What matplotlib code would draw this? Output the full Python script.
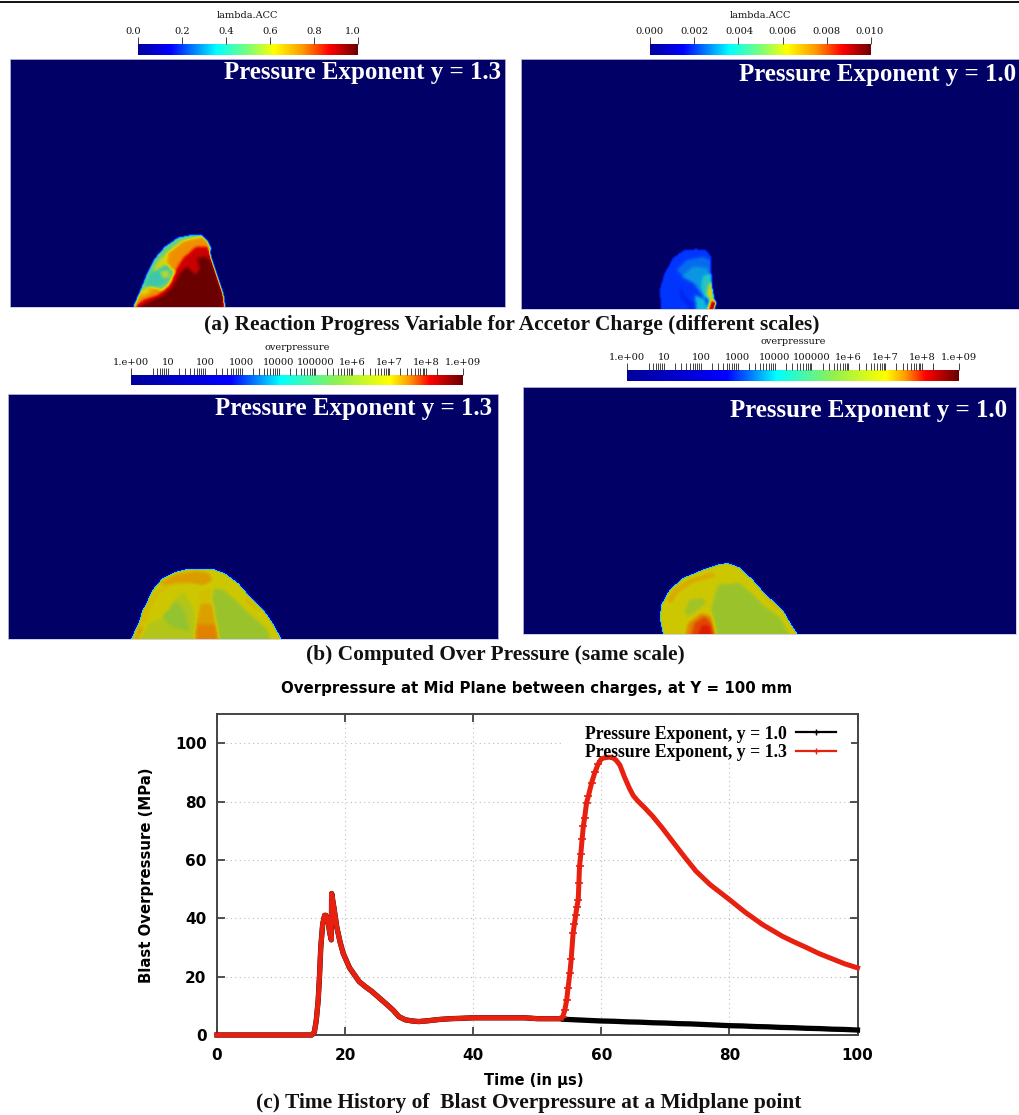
"""
Panel figure: reaction progress and overpressure fields plus overpressure time history.
Field outlines are read off the picture, in the coordinates of each panel's own frame.
"""

import numpy as np
import matplotlib
matplotlib.use("Agg")
import matplotlib.pyplot as plt
from matplotlib.cm import ScalarMappable
from matplotlib.colors import LinearSegmentedColormap, LogNorm, Normalize
from matplotlib.lines import Line2D
from matplotlib.patches import Rectangle
from matplotlib.path import Path
from matplotlib.ticker import NullLocator

W, H = 1019, 1115
SERIF = "Liberation Serif"
SMALL_SERIF = "DejaVu Serif"
NAVY = "#000066"

# ---- time history (c)
t_y13 = [0, 3, 6, 9, 12, 14.8, 15.2, 15.5, 15.8, 16.0, 16.2, 16.5, 16.8, 17.0, 17.3, 17.6, 17.85, 17.9,
         18.3, 18.7, 19.2, 19.7, 20.7, 22.2, 23.2, 24.2, 25.4, 26.6, 27.5, 28.4, 29.4, 30.5, 31.5, 33, 34.6,
         36.5, 38, 40, 42, 44, 46, 48, 50, 52, 53.5, 54.0, 54.3, 54.6, 54.8, 55.1, 55.3, 55.6, 55.8, 56.0,
         56.2, 56.4, 56.5, 56.6, 56.8, 57.0, 57.2, 57.4, 57.7, 58.0, 58.5, 59.0, 59.5, 60.0, 60.5, 61.2,
         61.8, 62.3, 62.9, 63.6, 64.4, 65.0, 65.7, 66.8, 68, 69.5, 71.1, 73, 74.8, 77, 80, 82.5, 85.2,
         88.3, 90, 92, 94, 95.6, 98, 100]
p_y13 = [0, 0, 0, 0, 0, 0, 1, 5, 12, 20, 30, 38, 41, 41, 39.5, 35, 32.6, 48.5,
         43, 37, 32, 28, 23, 18.3, 16.5, 14.9, 12.6, 10.3, 8.5, 6.3, 5.2, 4.8, 4.6, 4.9, 5.3,
         5.6, 5.7, 5.9, 5.9, 5.9, 5.9, 5.9, 5.6, 5.6, 5.6, 6.3, 8.5, 12, 16, 21.3, 26, 35, 38, 41,
         44, 46.4, 52, 57.8, 62, 67, 71.6, 74.5, 79.6, 82, 86.5, 90, 92.8, 94.6, 95, 95.2,
         95, 94.2, 92.5, 88.5, 84.5, 82, 80.2, 77.8, 75, 71, 66.4, 61, 56.1, 51.5, 46.4, 42, 37.8,
         33.8, 32, 30, 27.9, 26.5, 24.4, 23]
# y = 1.0 lies under the red curve up to 53.5 us
t_y10 = t_y13[:45] + [54, 56, 58, 60, 62, 64, 66, 68, 70, 72, 74, 76, 78, 80, 82, 84, 86, 88, 90, 92, 94, 96, 98, 100]
p_y10 = p_y13[:45] + [5.4, 5.2, 5.0, 4.8, 4.7, 4.5, 4.4, 4.2, 4.1, 3.9, 3.8, 3.6, 3.4, 3.2, 3.1, 2.9, 2.8, 2.6, 2.5, 2.3, 2.2, 2.0, 1.9, 1.7]
chart_xticks = [0, 20, 40, 60, 80, 100]
chart_yticks = [0, 20, 40, 60, 80, 100]

# ---- colour bars
acc_ticks_13 = [0.0, 0.2, 0.4, 0.6, 0.8, 1.0]
acc_labels_13 = ["0.0", "0.2", "0.4", "0.6", "0.8", "1.0"]
acc_ticks_10 = [0.0, 0.002, 0.004, 0.006, 0.008, 0.010]
acc_labels_10 = ["0.000", "0.002", "0.004", "0.006", "0.008", "0.010"]
over_ticks = [1e0, 1e1, 1e2, 1e3, 1e4, 1e5, 1e6, 1e7, 1e8, 1e9]
over_labels = ["1.e+00", "10", "100", "1000", "10000", "100000", "1e+6", "1e+7", "1e+8", "1.e+09"]
over_minor = [m * 10.0**k for k in range(8) for m in range(2, 10) if not (k == 0 and m < 4)] + [2e8]

# ---- field (a) y = 1.3: (value, outline x, outline y)
a13_layers = [
    (0.48, [25, 45, 65, 90, 120, 160, 200, 230, 248, 258, 254, 265, 282, 295, 300],
     [236, 190, 140, 90, 55, 28, 20, 20, 38, 60, 72, 110, 160, 200, 236]),
    (0.60, [35, 55, 70, 100, 130, 170, 200, 230, 200, 170, 150, 120, 100, 80, 55],
     [236, 190, 150, 100, 70, 40, 30, 30, 50, 80, 110, 110, 120, 150, 180]),
    (0.75, [130, 175, 230, 250, 252, 220, 190, 165, 150, 125],
     [75, 38, 25, 45, 65, 70, 80, 110, 130, 110]),
    (0.42, [60, 80, 100, 130, 140, 120, 95, 70],
     [165, 130, 125, 110, 140, 165, 175, 175]),
    (0.58, [105, 130, 135, 115], [130, 125, 145, 150]),
    (0.75, [28, 45, 75, 110, 130, 150, 150],
     [236, 195, 175, 185, 170, 140, 236]),
    (0.62, [60, 85, 60, 45], [185, 183, 200, 205]),
    (0.90, [30, 55, 100, 130, 150, 175, 215, 252, 254, 265, 282, 295, 298],
     [236, 215, 200, 175, 130, 90, 55, 55, 72, 110, 160, 200, 236]),
    (1.0, [40, 70, 110, 145, 165, 185, 210, 225, 215, 245, 260, 278, 293, 297],
     [236, 222, 205, 175, 135, 115, 140, 120, 90, 85, 105, 160, 200, 236]),
]

# ---- field (a) y = 1.0
a10_layers = [
    (0.0016, [65, 60, 75, 100, 130, 170, 200, 213, 215, 218, 225, 230, 222],
     [207, 150, 100, 55, 32, 28, 32, 50, 100, 150, 180, 190, 207]),
    (0.0024, [110, 140, 190, 210, 212, 190, 160, 130],
     [90, 60, 50, 60, 150, 170, 130, 110]),
    (0.0030, [125, 160, 205, 210, 195, 165], [110, 80, 85, 150, 175, 130]),
    (0.0040, [190, 212, 215, 195, 185], [110, 100, 165, 175, 140]),
    (0.0012, [125, 130, 160, 165, 150, 120], [130, 160, 190, 207, 207, 170]),
    (0.0035, [165, 195, 205, 170], [165, 178, 207, 207]),
    (0.0060, [208, 216, 222, 210, 200], [130, 130, 175, 185, 165]),
    (0.0090, [210, 220, 230, 222, 205], [185, 178, 190, 207, 207]),
]

# ---- field (b) y = 1.3, values in Pa
b13_layers = [
    (10**6.95, [17, 40, 60, 80, 110, 150, 190, 260, 300, 340, 370, 415, 440, 468],
     [236, 185, 135, 90, 55, 35, 25, 25, 40, 70, 105, 150, 185, 236]),
    (10**7.1, [40, 50, 80, 110, 150, 200, 190, 140, 100, 75, 60],
     [190, 150, 105, 75, 50, 35, 70, 75, 105, 150, 190]),
    (10**7.4, [100, 150, 210, 250, 262, 235, 190, 140],
     [70, 42, 32, 38, 60, 75, 68, 70]),
    (10**7.3, [28, 40, 55, 50], [236, 195, 200, 236]),
    (10**6.7, [40, 70, 120, 145, 175, 205, 215],
     [236, 190, 170, 120, 95, 150, 236]),
    (10**6.4, [110, 150, 175, 190, 140], [170, 125, 150, 210, 200]),
    (10**6.5, [280, 250, 290, 330, 360, 425, 435],
     [236, 85, 85, 120, 150, 205, 236]),
    (10**7.15, [355, 380, 410, 395, 365], [105, 125, 155, 150, 130]),
    (10**7.05, [215, 262, 260, 225], [95, 80, 130, 130]),
    (10**7.35, [225, 262, 272, 212], [130, 130, 190, 190]),
    (10**7.6, [212, 272, 280, 207], [190, 190, 236, 236]),
]

# ---- field (b) y = 1.0
b10_layers = [
    (10**6.95, [40, 30, 35, 60, 100, 160, 210, 235, 270, 310, 345, 400, 420, 442],
     [238, 190, 150, 105, 70, 45, 28, 25, 38, 75, 115, 170, 205, 238]),
    (10**7.25, [50, 75, 120, 190, 200, 130, 85, 65],
     [135, 100, 72, 52, 65, 85, 115, 150]),
    (10**7.15, [330, 360, 395, 375, 345], [105, 135, 170, 160, 130]),
    (10**6.5, [185, 205, 270, 305, 340, 390, 415, 200],
     [160, 90, 85, 115, 150, 190, 238, 238]),
    (10**6.55, [105, 120, 160, 170, 140, 115], [170, 135, 130, 145, 170, 185]),
    (10**7.6, [108, 115, 155, 185, 200], [238, 205, 175, 185, 238]),
    (10**7.9, [125, 135, 165, 185, 195], [238, 205, 185, 205, 238]),
    (10**8.15, [145, 160, 180, 185], [238, 210, 215, 238]),
]

acc_stops = [(0.0, "#00009a"), (0.15, "#0000ff"), (0.36, "#00ffff"), (0.5, "#78ff78"),
             (0.62, "#ffff00"), (0.75, "#ff9900"), (0.87, "#ff0000"), (1.0, "#6a0000")]
over_stops = [(0.0, "#00009a"), (0.30, "#0000ff"), (0.45, "#00ffff"), (0.62, "#90f050"),
              (0.78, "#ffff00"), (0.84, "#ff9900"), (0.90, "#ff0000"), (1.0, "#6a0000")]
# the rendered fields are a little darker than their colour bars
acc_field_stops = [(0.0, "#00009a"), (0.15, "#0030ff"), (0.36, "#10c0d8"), (0.5, "#78d070"),
                   (0.62, "#e0d800"), (0.75, "#f09000"), (0.87, "#e80000"), (1.0, "#6a0000")]
over_field_stops = [(0.0, "#00009a"), (0.30, "#0000ff"), (0.45, "#00e0f0"), (0.62, "#70d070"),
                    (0.72, "#98c32d"), (0.775, "#d0c800"), (0.84, "#e08c00"), (0.90, "#e02000"), (1.0, "#6a0000")]
acc_cmap = LinearSegmentedColormap.from_list("acc", acc_stops, N=512)
over_cmap = LinearSegmentedColormap.from_list("over", over_stops, N=512)
acc_field_cmap = LinearSegmentedColormap.from_list("acc_field", acc_field_stops, N=512)
over_field_cmap = LinearSegmentedColormap.from_list("over_field", over_field_stops, N=512)
acc_field_cmap.set_bad(NAVY)
over_field_cmap.set_bad(NAVY)

plt.rcParams["font.family"] = "DejaVu Sans"
fig = plt.figure(figsize=(W / 100, H / 100), dpi=100)


def axes_px(left, top, right, bottom):
    return fig.add_axes([left / W, 1 - bottom / H, (right - left) / W, (bottom - top) / H])


def text_px(x, y, s, **kw):
    kw.setdefault("ha", "center")
    kw.setdefault("va", "center")
    return fig.text(x / W, 1 - y / H, s, **kw)


def blur(field, passes):
    kernel = np.array([1, 2, 1]) / 4
    out = field
    for _ in range(passes):
        out = np.apply_along_axis(lambda r: np.convolve(np.pad(r, 1, mode="edge"), kernel, "valid"), 0, out)
        out = np.apply_along_axis(lambda r: np.convolve(np.pad(r, 1, mode="edge"), kernel, "valid"), 1, out)
    return out


def field_panel(origin, xlim, ylim, layers, cmap, norm, log=False):
    # xlim/ylim are at 3x around origin, a corner in the figure
    left, right = origin[0] + xlim[0] / 3, origin[0] + xlim[1] / 3
    top, bottom = origin[1] + ylim[1] / 3, origin[1] + ylim[0] / 3
    ax = axes_px(left, top, right, bottom)
    nx, ny = int(round(right - left)), int(round(bottom - top))
    xs = np.linspace(xlim[0], xlim[1], nx, endpoint=False) + 1.5
    ys = np.linspace(ylim[1], ylim[0], ny, endpoint=False) + 1.5
    xx, yy = np.meshgrid(xs, ys)
    pts = np.column_stack([xx.ravel(), yy.ravel()])
    field = np.zeros((ny, nx))
    for value, lx, ly in layers:
        inside = Path(np.column_stack([lx, ly])).contains_points(pts).reshape(ny, nx)
        field[inside] = np.log10(value) if log else value
    # soft inside the blob, only a thin rim against the background
    mask = (field > 0).astype(float)
    inner = blur(field, 4) / np.maximum(blur(mask, 4), 1e-6)
    smooth = inner * blur(mask, 1)
    smooth = np.ma.masked_less_equal(smooth, 1e-2 if log else 2e-2 * norm.vmax)
    if log:
        smooth = 10.0**smooth
    ax.imshow(smooth, extent=[xlim[0], xlim[1], ylim[0], ylim[1]], origin="upper", aspect="auto",
              cmap=cmap, norm=norm, interpolation="nearest")
    ax.set_xlim(xlim)
    ax.set_ylim(ylim)
    ax.set_xticks([])
    ax.set_yticks([])
    for s in ax.spines.values():
        s.set_color("#c8c8e0")
        s.set_linewidth(0.6)
    return ax


def color_bar(left, top, right, bottom, cmap, norm, ticks, labels, title, minor=None, shifts=None):
    cax = axes_px(left, top, right, bottom)
    cb = fig.colorbar(ScalarMappable(norm=norm, cmap=cmap), cax=cax, orientation="horizontal")
    cb.outline.set_visible(False)
    cb.set_ticks(ticks, labels=[""] * len(ticks))
    cax.xaxis.set_ticks_position("top")
    if minor is not None:
        cb.set_ticks(minor, minor=True)
    else:
        cax.xaxis.set_minor_locator(NullLocator())
    cax.tick_params(axis="x", which="both", direction="out", length=4.7, width=0.6, color="#222222")
    cax.tick_params(axis="x", which="minor", labeltop=False)
    # end labels sit inside the bar ends in the original, hence the shifts
    shifts = shifts or [0] * len(ticks)
    for tick, lab, dx in zip(ticks, labels, shifts):
        cax.annotate(lab, (tick, 1), xycoords=("data", "axes fraction"), xytext=(dx, 10),
                     textcoords="offset pixels", ha="center", va="baseline", fontsize=7.1,
                     family=SMALL_SERIF, color="#111111", annotation_clip=False)
    text_px((left + right) / 2, top - 28, title, fontsize=7, family=SMALL_SERIF, color="#111111")
    return cb


# top rule of the page
fig.add_artist(Line2D([0, 1], [1 - 2 / H, 1 - 2 / H], color="#111111", lw=1.4))

acc_norm_13 = Normalize(0, 1)
acc_norm_10 = Normalize(0, 0.01)
over_norm = LogNorm(1, 1e9)

field_panel((125, 228), (-345, 1140), (236, -507), a13_layers, acc_field_cmap, acc_norm_13)
field_panel((640, 240), (-356, 1137), (207, -542), a10_layers, acc_field_cmap, acc_norm_10)
field_panel((125, 560), (-352, 1120), (236, -498), b13_layers, over_field_cmap, over_norm, log=True)
field_panel((650, 555), (-380, 1097), (238, -503), b10_layers, over_field_cmap, over_norm, log=True)

color_bar(137.5, 44, 358, 55, acc_cmap, acc_norm_13, acc_ticks_13, acc_labels_13, "lambda.ACC",
          shifts=[-4.3, 1, 0.7, 0.3, 0, -5])
color_bar(650, 44, 871, 55, acc_cmap, acc_norm_10, acc_ticks_10, acc_labels_10, "lambda.ACC",
          shifts=[-1, 0.7, 1, 0, 0, -1.7])
color_bar(131, 375, 463, 385, over_cmap, over_norm, over_ticks, over_labels, "overpressure", minor=over_minor)
color_bar(627, 370, 959, 381, over_cmap, over_norm, over_ticks, over_labels, "overpressure", minor=over_minor)

label_style = dict(family=SERIF, weight="bold", fontsize=17.9, color="white", ha="right")
text_px(501, 72, "Pressure Exponent y = 1.3", **label_style)
text_px(1016.5, 75, "Pressure Exponent y = 1.0", **label_style)
text_px(492, 408, "Pressure Exponent y = 1.3", **label_style)
text_px(1007, 411, "Pressure Exponent y = 1.0", **label_style)

caption_style = dict(family=SERIF, weight="bold", fontsize=15.4, color="#111111")
text_px(512, 325, "(a) Reaction Progress Variable for Accetor Charge (different scales)", **caption_style)
text_px(495.5, 655, "(b) Computed Over Pressure (same scale)", **caption_style)
text_px(528.5, 1103, "(c) Time History of  Blast Overpressure at a Midplane point", **caption_style)

# ---- time history
ax = axes_px(217, 714, 857.5, 1035)
rise = range(t_y13.index(54.0), t_y13.index(60.0))
ax.plot(t_y10, p_y10, color="black", lw=3.8, clip_on=False, zorder=3)
ax.plot(t_y13, p_y13, color="#e8200f", lw=3.6, marker="+", ms=6, mew=1.2, markevery=list(rise),
        clip_on=False, zorder=4)
ax.set_xlim(0, 100)
ax.set_ylim(0, 110)
ax.set_xticks(chart_xticks)
ax.set_yticks(chart_yticks)
ax.set_axisbelow(True)
ax.grid(True, color="#bbbbbb", lw=0.8, ls=(0, (1, 3)))
ax.tick_params(axis="both", direction="in", length=6, width=1.2, color="#333333", top=True, right=True,
               labelsize=11)
ax.tick_params(axis="x", pad=9)
ax.tick_params(axis="y", pad=7.5)
for lab in ax.get_xticklabels() + ax.get_yticklabels():
    lab.set_fontweight("bold")
for s in ax.spines.values():
    s.set_color("#444444")
    s.set_linewidth(1.4)

# white block behind the key, it hides the grid but not the curves
ax.add_patch(Rectangle((53.7, 93.5), 45.3, 16.3, facecolor="white", edgecolor="none", zorder=1))
handles = [Line2D([], [], color="black", lw=1.6, marker="+", ms=4, mew=1),
           Line2D([], [], color="#e8200f", lw=1.6, marker="+", ms=4, mew=1)]
leg = ax.legend(handles, ["Pressure Exponent, y = 1.0", "Pressure Exponent, y = 1.3"],
                loc="upper right", bbox_to_anchor=(0.985, 1.0), markerfirst=False, frameon=False,
                borderpad=0.35, labelspacing=0.07, handlelength=2.3, handletextpad=0.5, borderaxespad=0.3,
                prop=dict(family=SERIF, weight="bold", size=12.75))
leg.set_zorder(5)

text_px(537, 689, "Overpressure at Mid Plane between charges, at Y = 100 mm", fontsize=10.85, weight="bold")
text_px(534, 1080, "Time (in \u00b5s)", fontsize=10.65, weight="bold")
text_px(147, 875.5, "Blast Overpressure (MPa)", fontsize=10.75, weight="bold", rotation=90)

fig.savefig("out.png", dpi=100)
